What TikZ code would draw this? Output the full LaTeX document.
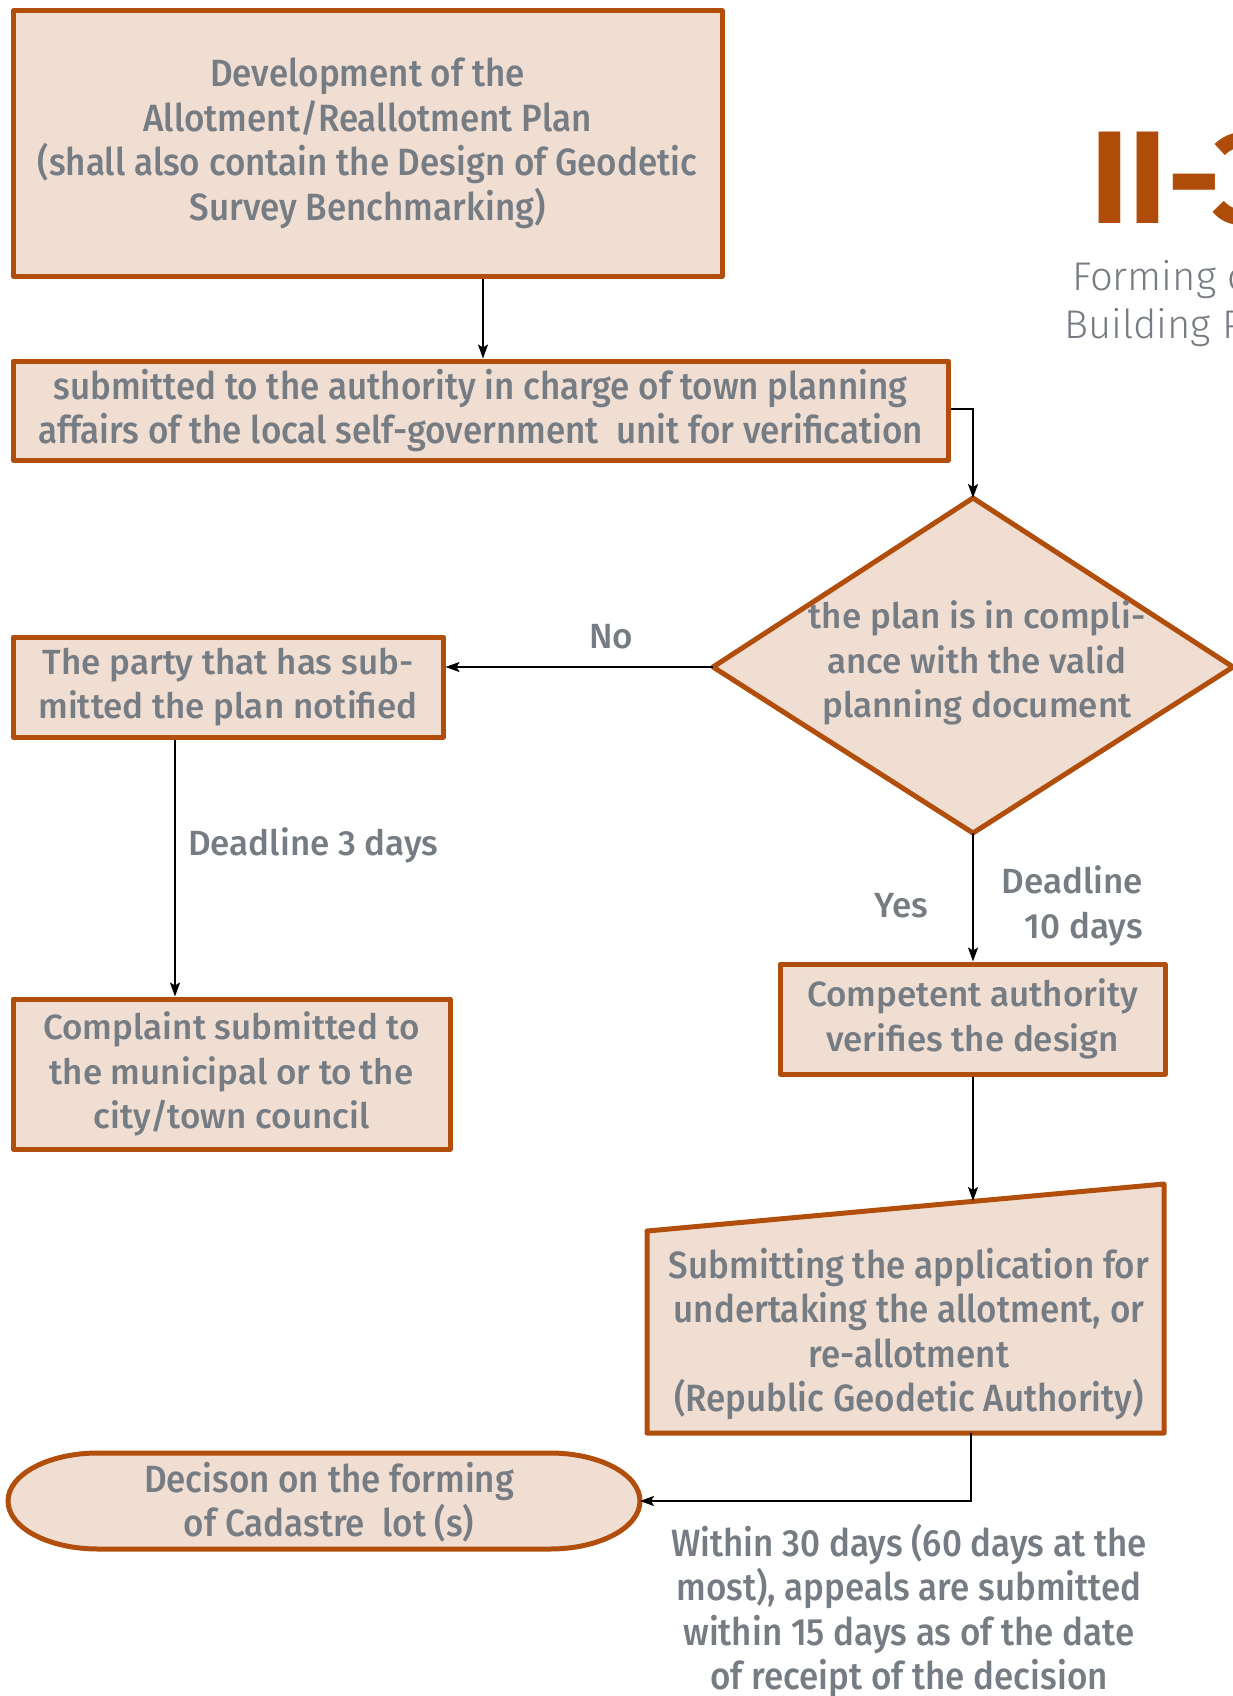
\documentclass[tikz,border=0pt]{standalone}
\usepackage{fontspec}
\usetikzlibrary{arrows.meta}
\setmainfont{Fira Sans}
\newfontfamily\bodyfont{Fira Sans Medium}
\newfontfamily\narrowfont{Fira Sans Medium}[FakeStretch=0.92]
\newfontfamily\titlefont{Fira Sans Bold}
\newfontfamily\headfont{Fira Sans Light}
\definecolor{boxfill}{HTML}{F0DED2}
\definecolor{boxline}{HTML}{B24E0C}
\definecolor{txt}{HTML}{767C83}
\definecolor{titlec}{HTML}{B04C0A}
\tikzset{
  shapeline/.style={draw=boxline, fill=boxfill, line width=5pt, line join=round},
  stepbox/.style={shapeline, rectangle, inner sep=0pt, align=center, text=txt},
  wide/.style={font=\bodyfont\fontsize{35}{44.5}\selectfont},
  narrow/.style={font=\narrowfont\fontsize{38}{44.5}\selectfont},
  plaintext/.style={inner sep=0pt, align=center, text=txt},
  conn/.style={line width=1.8pt, -{Stealth[length=14pt,width=10pt,inset=3pt]}},
}
\begin{document}
\begin{tikzpicture}[x=1pt,y=-1pt]
\path[use as bounding box] (0,0) rectangle (1232,1696);

% heading in the upper right corner
\node[anchor=base west, inner sep=0pt, text=titlec, font=\titlefont\fontsize{132}{132}\selectfont] (num) at (1090,224) {II-3};
\node[anchor=base west, inner sep=0pt, text=txt, font=\headfont\fontsize{40}{46}\selectfont] (head1) at (1072,290) {Forming of};
\node[anchor=base west, inner sep=0pt, text=txt, font=\headfont\fontsize{40}{46}\selectfont] (head2) at (1064,338) {Building Plots};

% process steps
\node[stepbox, narrow, minimum width=709pt, minimum height=265pt] (plan) at (367.5,143.5)
  {Development of the\\Allotment/Reallotment Plan\\(shall also contain the Design of Geodetic\\Survey Benchmarking)};
\node[stepbox, narrow, minimum width=935pt, minimum height=99pt] (submit) at (480.5,410.5)
  {submitted to the authority in charge of town planning\\affairs of the local self-government\ \ unit for verification};
\node[stepbox, wide, minimum width=430pt, minimum height=100pt] (notify) at (228,687)
  {The party that has sub-\\mitted the plan notified};
\node[stepbox, wide, minimum width=437pt, minimum height=150pt] (complaint) at (231.5,1074)
  {Complaint submitted to\\the municipal or to the\\city/town council};
\node[stepbox, wide, minimum width=385pt, minimum height=110pt] (verify) at (972.5,1019)
  {Competent authority\\verifies the design};

% decision
\coordinate (dtop) at (973,498);
\coordinate (dright) at (1233,667);
\coordinate (dbot) at (973,833);
\coordinate (dleft) at (713,667);
\draw[shapeline] (dtop) -- (dright) -- (dbot) -- (dleft) -- cycle;
\node[plaintext, wide] (check) at (977,663)
  {the plan is in compli-\\ance with the valid\\planning document};

% manual input: application
\coordinate (tbl) at (647,1433);
\coordinate (ttl) at (647,1231);
\coordinate (ttr) at (1164,1184);
\coordinate (tbr) at (1164,1433);
\draw[shapeline] (tbl) -- (ttl) -- (ttr) -- (tbr) -- cycle;
\coordinate (tin) at (973,1201);
\coordinate (tout) at (971,1433);
\node[plaintext, narrow] (apply) at (909,1334)
  {Submitting the application for\\undertaking the allotment, or\\re-allotment\\(Republic Geodetic Authority)};

% terminal: decision on the lots
\draw[shapeline] (98,1453) -- (550,1453)
  arc[start angle=-90, end angle=90, x radius=90, y radius=48]
  -- (98,1549)
  arc[start angle=90, end angle=270, x radius=90, y radius=48] -- cycle;
\coordinate (dec) at (640,1501);
\node[plaintext, narrow] (decision) at (329,1502)
  {Decison on the forming\\of Cadastre\ \ lot (s)};

% connectors
\draw[conn] (plan.south -| 483,0) -- (submit.north -| 483,0);
\draw[conn] (submit.east |- 0,409) -| (dtop);
\draw[conn] (dleft) -- (notify.east |- dleft);
\draw[conn] (notify.south -| 175,0) -- (complaint.north -| 175,0);
\draw[conn] (dbot) -- (verify.north -| dbot);
\draw[conn] (verify.south -| tin) -- (tin);
\draw[conn] (tout) |- (dec);

% connector labels
\node[plaintext, wide] (no) at (611,637) {No};
\node[plaintext, wide, anchor=west] (dl3) at (188,845) {Deadline 3 days};
\node[plaintext, wide] (yes) at (901,906) {Yes};
\node[plaintext, wide, align=right, anchor=east] (dl10) at (1143,906) {Deadline\\10 days};
\node[plaintext, narrow] (appeal) at (909,1611)
  {Within 30 days (60 days at the\\most), appeals are submitted\\within 15 days as of the date\\of receipt of the decision};
\end{tikzpicture}
\end{document}
